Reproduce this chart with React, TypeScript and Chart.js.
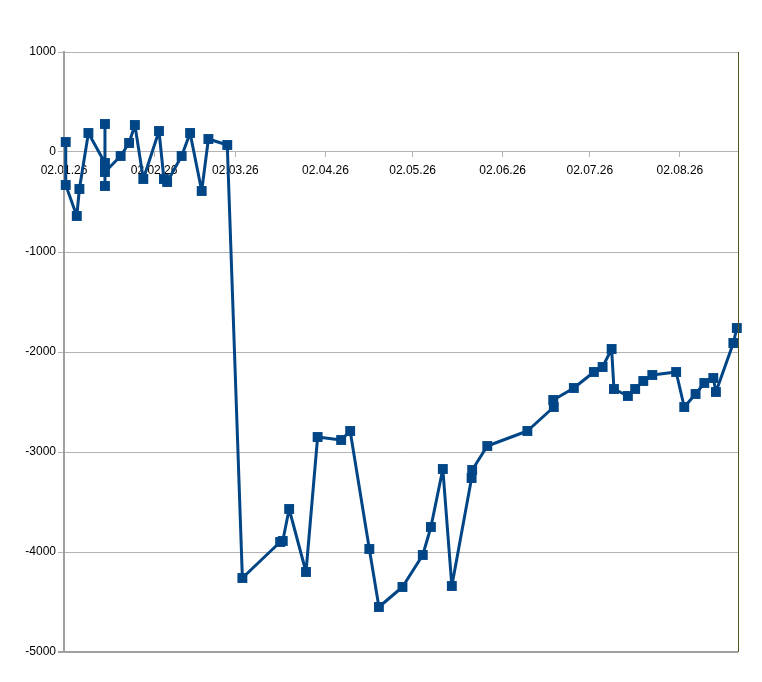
import React, { useEffect, useRef } from 'react';
import { Chart, registerables } from 'chart.js';

Chart.register(...registerables);

// days counted from 02.01.26
const dayOffsets = [
  0.6, 0.6, 4.4, 5.3, 8.4, 14.1, 14.1, 14.1, 14.1, 19.5, 22.4, 24.4, 27.3, 32.7, 34.4, 35.5,
  40.5, 43.4, 47.4, 49.7, 56.2, 61.4, 74.4, 75.3, 77.5, 83.3, 87.3, 95.4, 98.5, 105.1, 108.4,
  116.5, 123.5, 126.3, 130.4, 133.5, 140.3, 140.5, 145.7, 159.5, 168.6, 168.4, 175.5, 182.4,
  185.4, 188.5, 189.3, 194.1, 196.6, 199.4, 202.5, 210.7, 213.5, 217.4, 220.4, 223.5, 224.4,
  230.4, 231.6,
];
const values = [
  100, -330, -640, -370, 190, -110, 280, -340, -200, -40, 90, 270, -270, 210, -270, -300,
  -40, 190, -390, 130, 70, -4260, -3900, -3890, -3570, -4200, -2850, -2880, -2790, -3970, -4550,
  -4350, -4030, -3750, -3170, -4340, -3260, -3180, -2940, -2790, -2550, -2480, -2360, -2200,
  -2150, -1970, -2370, -2440, -2370, -2290, -2230, -2200, -2550, -2420, -2310, -2260, -2400,
  -1910, -1760,
];
const tickDays = [0, 31, 59, 90, 120, 151, 181, 212];
const tickLabels = ['02.01.26', '02.02.26', '02.03.26', '02.04.26', '02.05.26', '02.06.26', '02.07.26', '02.08.26'];

const rightBorder = {
  id: 'rightBorder',
  afterDraw(chart: any) {
    const { ctx, chartArea } = chart;
    ctx.save();
    ctx.strokeStyle = '#555522';
    ctx.lineWidth = 1;
    ctx.beginPath();
    ctx.moveTo(chartArea.right + 0.5, chartArea.top);
    ctx.lineTo(chartArea.right + 0.5, chartArea.bottom);
    ctx.stroke();
    ctx.restore();
  },
};

const App = () => {
  const canvasRef = useRef<HTMLCanvasElement>(null);

  useEffect(() => {
    const canvas = canvasRef.current;
    if (!canvas) return;
    Chart.defaults.font.family = '"Liberation Sans", Arial, sans-serif';
    Chart.defaults.font.size = 12;
    Chart.defaults.color = '#000000';

    const chart = new Chart(canvas, {
      type: 'line',
      data: {
        datasets: [{
          data: dayOffsets.map((d, i) => ({ x: d, y: values[i] })),
          borderColor: '#004586',
          backgroundColor: '#004586',
          borderWidth: 3,
          borderJoinStyle: 'round',
          tension: 0,
          pointStyle: 'rect',
          pointRadius: 7,
          pointBorderWidth: 0,
          pointBackgroundColor: '#004586',
          clip: false,
        }],
      },
      plugins: [rightBorder],
      options: {
        responsive: false,
        animation: false,
        layout: { padding: { left: 0, right: 24, top: 52, bottom: 30 } },
        plugins: { legend: { display: false }, tooltip: { enabled: false } },
        scales: {
          x: {
            type: 'linear',
            min: 0,
            max: 232,
            position: { y: 0 },
            z: -1,
            afterBuildTicks: (scale: any) => {
              scale.ticks = tickDays.map(v => ({ value: v }));
            },
            ticks: {
              autoSkip: false,
              maxRotation: 0,
              padding: 6,
              callback: (v: any) => tickLabels[tickDays.indexOf(v)] ?? '',
            },
            grid: { drawOnChartArea: false, tickLength: 5, color: '#b3b3b3' },
            border: { display: false },
          },
          y: {
            min: -5000,
            max: 1000,
            afterFit: (scale: any) => { scale.width = 64; },
            ticks: { stepSize: 1000, padding: 2, callback: (v: any) => String(v) },
            grid: {
              tickLength: 6,
              color: (c: any) => (c.tick && c.tick.value === -5000 ? '#a0a0a0' : '#b3b3b3'),
              lineWidth: (c: any) => (c.tick && c.tick.value === -5000 ? 2 : 1),
            },
            border: { color: '#a0a0a0', width: 2 },
          },
        },
      },
    });

    return () => chart.destroy();
  }, []);

  return (
    <div style={{ position: 'fixed', left: 0, top: 0, width: 762, height: 682, background: '#fff' }}>
      <canvas ref={canvasRef} width={762} height={682}></canvas>
    </div>
  );
};

export default App;
